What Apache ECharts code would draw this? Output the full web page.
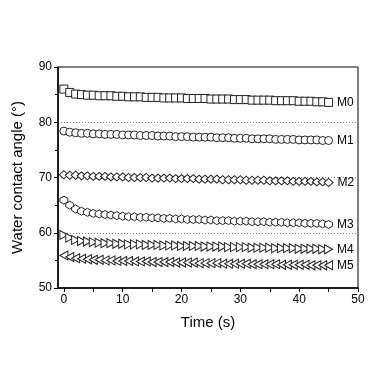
<!DOCTYPE html>
<html><head><meta charset="utf-8">
<script src="https://cdn.jsdelivr.net/npm/echarts@6/dist/echarts.min.js"></script>
<style>html,body{margin:0;padding:0;background:#fff}#c{width:380px;height:380px}</style>
</head><body><div id="c"></div>
<script>
const times = Array.from({length:46},(_, i)=>i);
const seriesNames = ['M0','M1','M2','M3','M4','M5'];
const M0 = [86.0,85.4,85.1,85.0,84.9,84.9,84.8,84.8,84.8,84.7,84.7,84.6,84.6,84.6,84.5,84.5,84.5,84.4,84.4,84.4,84.4,84.3,84.3,84.3,84.3,84.2,84.2,84.2,84.2,84.1,84.1,84.1,84.0,84.0,84.0,84.0,83.9,83.9,83.9,83.9,83.8,83.8,83.8,83.7,83.7,83.6];
const M1 = [78.4,78.2,78.1,78.0,78.0,77.9,77.9,77.8,77.8,77.8,77.7,77.7,77.7,77.6,77.6,77.6,77.5,77.5,77.5,77.4,77.4,77.4,77.3,77.3,77.3,77.3,77.2,77.2,77.2,77.1,77.1,77.1,77.0,77.0,77.0,77.0,76.9,76.9,76.9,76.9,76.8,76.8,76.8,76.8,76.7,76.7];
const M2 = [70.5,70.4,70.4,70.3,70.3,70.2,70.2,70.2,70.1,70.1,70.1,70.0,70.0,70.0,70.0,69.9,69.9,69.9,69.9,69.8,69.8,69.8,69.8,69.7,69.7,69.7,69.7,69.6,69.6,69.6,69.6,69.5,69.5,69.5,69.5,69.4,69.4,69.4,69.4,69.3,69.3,69.3,69.3,69.2,69.2,69.1];
const M3 = [65.9,65.0,64.3,63.9,63.7,63.5,63.4,63.3,63.2,63.1,63.0,62.9,62.9,62.8,62.8,62.7,62.7,62.6,62.6,62.5,62.5,62.4,62.4,62.4,62.3,62.3,62.2,62.2,62.2,62.1,62.1,62.1,62.0,62.0,62.0,61.9,61.9,61.9,61.8,61.8,61.8,61.7,61.7,61.7,61.6,61.5];
const M4 = [59.6,59.1,58.7,58.5,58.4,58.3,58.2,58.1,58.1,58.0,58.0,57.9,57.9,57.9,57.8,57.8,57.8,57.7,57.7,57.7,57.6,57.6,57.6,57.6,57.5,57.5,57.5,57.5,57.4,57.4,57.4,57.4,57.3,57.3,57.3,57.3,57.2,57.2,57.2,57.2,57.1,57.1,57.1,57.1,57.0,57.0];
const M5 = [55.9,55.6,55.4,55.3,55.2,55.1,55.1,55.0,55.0,54.9,54.9,54.9,54.8,54.8,54.8,54.7,54.7,54.7,54.7,54.6,54.6,54.6,54.6,54.5,54.5,54.5,54.5,54.4,54.4,54.4,54.4,54.4,54.3,54.3,54.3,54.3,54.3,54.2,54.2,54.2,54.2,54.2,54.1,54.1,54.1,54.1];
const allData = [M0,M1,M2,M3,M4,M5];
const xTicks = [0,10,20,30,40,50];
const xTickMarks = [0,5,10,15,20,25,30,35,40,45,50];
const yTicks = [50,60,70,80,90];

const symbols = [
  'rect',
  'circle',
  'diamond',
  'path://M5,0 L10,3 L10,7 L5,10 L0,7 L0,3 Z',
  'path://M0,0 L10,5 L0,10 Z',
  'path://M10,0 L0,5 L10,10 Z'
];
const sizes = [[8,8],[8,8],[9,8],[8,8],[8,9],[8,9]];

const font = 'Liberation Sans, Arial, sans-serif';
const chart = echarts.init(document.getElementById('c'));
chart.setOption({
  animation:false,
  backgroundColor:'#fff',
  grid:{left:58,right:22,top:67,bottom:92,show:true,borderColor:'#000',borderWidth:1,backgroundColor:'transparent'},
  xAxis:{type:'value',min:-1,max:50,
    axisLine:{show:true,onZero:false,lineStyle:{color:'#000',width:1.5}},
    axisTick:{show:true,inside:false,length:4,lineStyle:{color:'#000'},customValues:xTickMarks},
    axisLabel:{color:'#000',fontSize:12,fontFamily:font,margin:6,customValues:xTicks},
    splitLine:{show:false},
    name:'Time (s)',nameLocation:'middle',nameGap:27,nameTextStyle:{color:'#000',fontSize:15,fontFamily:font}
  },
  yAxis:{type:'value',min:50,max:90,interval:10,
    axisLine:{show:true,onZero:false,lineStyle:{color:'#000',width:1.5}},
    axisTick:{show:true,inside:false,length:4,lineStyle:{color:'#000'}},
    minorTick:{show:true,splitNumber:2,length:3,lineStyle:{color:'#000'}},
    axisLabel:{color:'#000',fontSize:12,fontFamily:font,margin:6},
    splitLine:{show:true,lineStyle:{color:'#888',type:[1,2],width:1}},
    name:'Water contact angle (°)',nameLocation:'middle',nameGap:33,nameTextStyle:{color:'#000',fontSize:15,fontFamily:font}
  },
  series: allData.map((d,si)=>({
    name:seriesNames[si],
    type:'scatter',
    symbol:symbols[si],
    symbolSize:sizes[si],
    itemStyle:{color:'#fff',borderColor:'#222',borderWidth:1,opacity:1},
    data:d.map((v,i)=>{
      const item={value:[times[i],v]};
      if(i===d.length-1){
        item.label={show:true,position:'right',distance:4,formatter:seriesNames[si],color:'#000',fontSize:12,fontFamily:font};
      }
      return item;
    })
  }))
});
</script></body></html>
